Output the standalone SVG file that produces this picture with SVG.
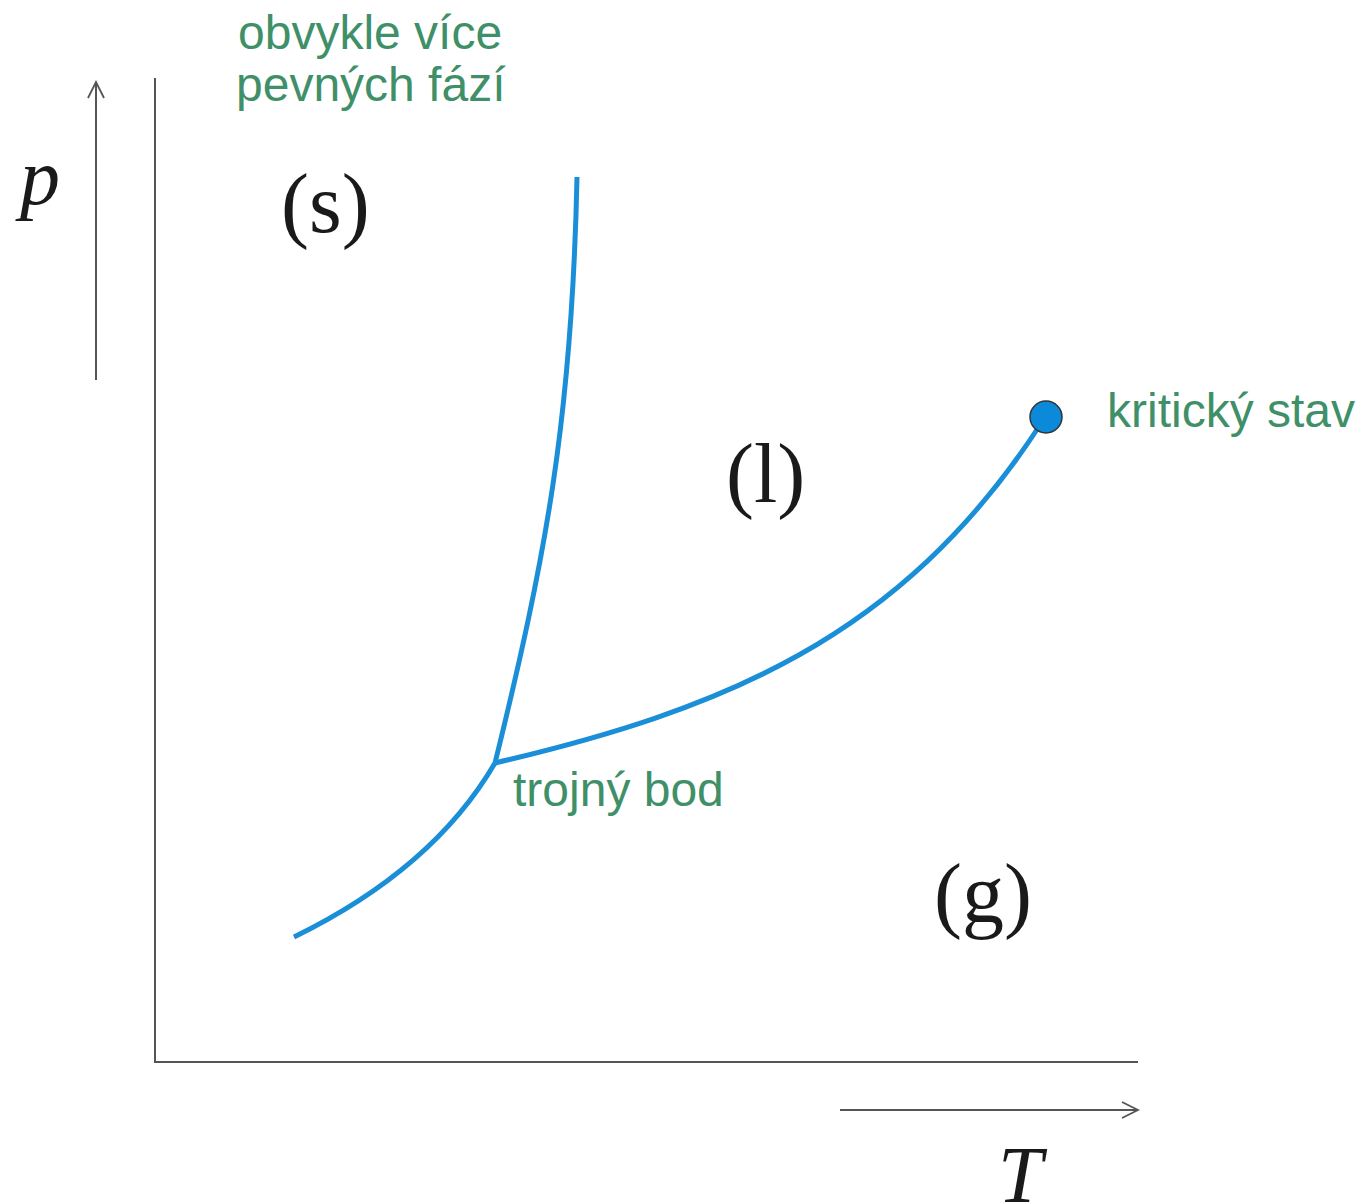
<svg xmlns="http://www.w3.org/2000/svg" width="1364" height="1204" viewBox="0 0 1364 1204">
<style>
.axis{stroke:#555;stroke-width:2;fill:none}
.curve{stroke:#1a8fd8;stroke-width:5;fill:none}
.green{font-family:"Liberation Sans",Arial,sans-serif;font-size:48px;fill:#3f9068}
.phase{font-family:"Liberation Serif","Times New Roman",serif;font-size:84px;fill:#1a1a1a}
.var{font-family:"Liberation Serif","Times New Roman",serif;font-style:italic;font-size:80px;fill:#1a1a1a}
</style>
<defs>
<marker id="open" viewBox="0 0 20 20" refX="18" refY="10" markerWidth="20" markerHeight="20" markerUnits="userSpaceOnUse" orient="auto">
<path d="M2,2 L18,10 L2,18" fill="none" stroke="#555" stroke-width="1.8"/>
</marker>
</defs>
<rect width="1364" height="1204" fill="#fff"/>
<g id="axes">
<path class="axis" d="M155,78 V1062 H1138"/>
<path class="axis" d="M96,380 V82" marker-end="url(#open)"/>
<path class="axis" d="M840,1110 H1138" marker-end="url(#open)"/>
</g>
<g id="connectors">
<path class="curve" d="M577,177 C572,420 545,560 495,763"/>
<path class="curve" d="M495,763 C450,840 380,895 294,937"/>
<path class="curve" d="M495,763 C720,710 900,640 1040,425"/>
</g>
<g id="critical-point"><circle cx="1046" cy="417" r="16" fill="#0a8ad8" stroke="#333" stroke-width="1.5"/></g>
<g id="labels">
<text class="var" x="20" y="204">p</text>
<text class="var" x="998" y="1202" font-size="82">T</text>
<text class="phase" x="281" y="232">(s)</text>
<text class="phase" x="726" y="502">(l)</text>
<text class="phase" x="934" y="922">(g)</text>
<text class="green" x="238" y="49">obvykle více</text>
<text class="green" x="236" y="101">pevných fází</text>
<text class="green" x="1107" y="427">kritický stav</text>
<text class="green" x="513" y="806">trojný bod</text>
</g>
</svg>
